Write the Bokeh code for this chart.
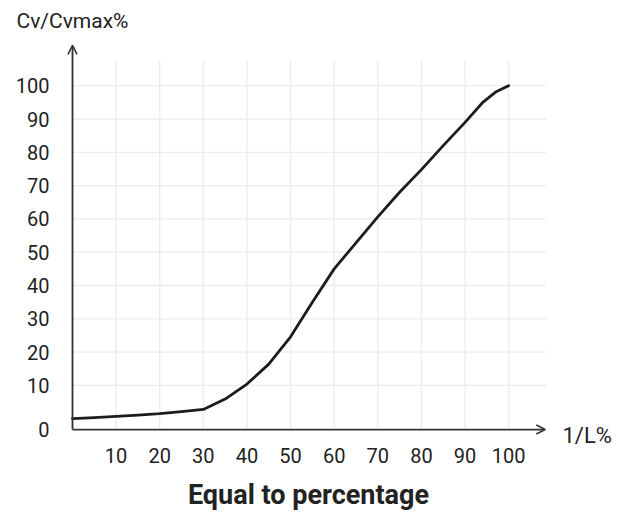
from bokeh.plotting import figure
from bokeh.models import Range1d, FixedTicker, Arrow, OpenHead, LinearAxis
from bokeh.embed import file_html
from bokeh.resources import INLINE

# Data (travel % vs Cv/Cvmax %)
travel = [0, 5, 10, 15, 20, 25, 30, 35, 40, 45, 50, 55, 60, 65, 70, 75, 80, 85, 90, 94, 97, 100]
cv = [0.0, 0.35, 0.7, 1.1, 1.5, 2.1, 2.8, 5.9, 10.4, 16.4, 24.6, 35.0, 45.0, 52.8, 60.6, 68.0,
      74.8, 82.0, 89.0, 94.9, 98.1, 100.0]

x_ticks = [10, 20, 30, 40, 50, 60, 70, 80, 90, 100]
y_base = -3.26
y_ticks = [y_base, 10, 20, 30, 40, 50, 60, 70, 80, 90, 100]
y_grid = [10, 20, 30, 40, 50, 60, 70, 80, 90, 100]
y_labels = {y_base: "0"}

x_label = "1/L%"
x_label_at = -5.0
y_label = "Cv/Cvmax%"
caption = "Equal to percentage"

FONT = "Roboto"
TXT = "#222222"
GRID = "#ececec"

p = figure(width=627, height=513, output_backend="svg", toolbar_location=None,
           x_range=Range1d(-1.376, 109.6), y_range=Range1d(-5.04, 113.58),
           min_border_left=66, min_border_right=77, min_border_top=40, min_border_bottom=73)
p.outline_line_color = None
p.background_fill_color = "white"
p.border_fill_color = "white"
p.xgrid.visible = False
p.ygrid.visible = False


def style_axis(ax, size="20px", standoff=10):
    ax.axis_line_color = None
    ax.major_tick_line_color = None
    ax.minor_tick_line_color = None
    ax.major_label_text_font = FONT
    ax.major_label_text_font_size = size
    ax.major_label_text_color = TXT
    ax.major_label_standoff = standoff


p.xaxis.ticker = FixedTicker(ticks=x_ticks)
p.yaxis.ticker = FixedTicker(ticks=y_ticks)
p.yaxis.major_label_overrides = y_labels
style_axis(p.xaxis[0], standoff=6)
style_axis(p.yaxis[0], standoff=11)

# caption as the horizontal axis title
p.xaxis.axis_label = caption
p.xaxis.axis_label_text_font = FONT
p.xaxis.axis_label_text_font_size = "27px"
p.xaxis.axis_label_text_font_style = "bold"
p.xaxis.axis_label_text_color = TXT
p.xaxis.axis_label_standoff = 13

# label for the horizontal axis, at the arrow's end
right_ax = LinearAxis(ticker=FixedTicker(ticks=[x_label_at]),
                      major_label_overrides={x_label_at: x_label})
style_axis(right_ax, size="22px", standoff=6)
p.add_layout(right_ax, "right")

# label for the vertical axis, above the arrow
top_ax = LinearAxis(ticker=FixedTicker(ticks=[0]), major_label_overrides={0: y_label})
style_axis(top_ax, size="21px", standoff=2)
p.add_layout(top_ax, "above")

# grid lines
p.segment(x0=x_ticks, y0=[y_base] * len(x_ticks), x1=x_ticks, y1=[107.4] * len(x_ticks),
          line_color=GRID, line_width=1.3)
p.segment(x0=[0] * len(y_grid), y0=y_grid, x1=[108.6] * len(y_grid), y1=y_grid,
          line_color=GRID, line_width=1.3)

p.line(travel, cv, line_color="#1c1c1c", line_width=2.8, line_join="round", line_cap="round")

axis_color = "#333333"
p.add_layout(Arrow(end=OpenHead(size=9, line_width=1.6, line_color=axis_color),
                   x_start=0, y_start=y_base, x_end=108.4, y_end=y_base,
                   line_color=axis_color, line_width=1.8))
p.add_layout(Arrow(end=OpenHead(size=9, line_width=1.6, line_color=axis_color),
                   x_start=0, y_start=y_base, x_end=0, y_end=112.1,
                   line_color=axis_color, line_width=1.8))

open("out.html", "w").write(file_html(p, INLINE))
